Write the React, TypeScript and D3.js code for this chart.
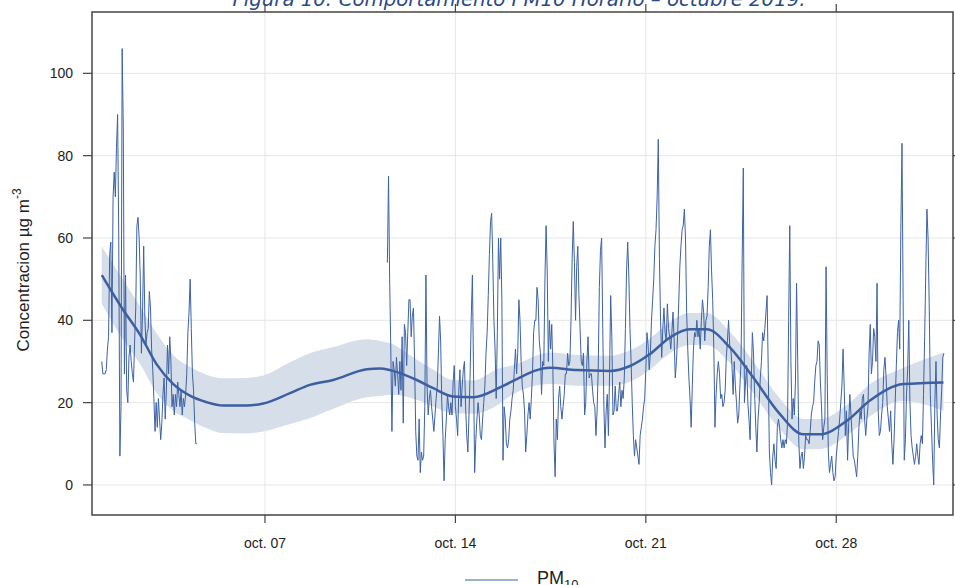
import React, { useEffect, useRef } from 'react';
import * as d3 from 'd3';

// hourly PM10, first block (Oct 1 00h - Oct 4 12h)
const block1Start = '2019-10-01T00:00:00Z';
const block1 = [
  30, 27, 27, 27, 28, 33, 36, 56, 59, 37,
  70, 76, 70, 82, 90, 60, 7, 19, 106, 87,
  27, 51, 23, 20, 31, 34, 30, 27, 25, 35,
  43, 63, 65, 60, 50, 32, 42, 58, 41, 34,
  37, 38, 47, 43, 33, 28, 21, 13, 20, 14,
  21, 16, 11, 15, 22, 26, 16, 23, 34, 27,
  36, 30, 19, 22, 17, 22, 19, 25, 22, 19,
  23, 17, 21, 19, 22, 27, 37, 42, 50, 38,
  27, 23, 15, 10, 10,
];

// hourly PM10, second block (Oct 11 12h - Oct 31 23h)
const block2Start = '2019-10-11T12:00:00Z';
const block2 = [
  54, 75, 50, 33, 13, 30, 28, 24, 31, 27,
  22, 30, 23, 36, 15, 39, 37, 29, 37, 45,
  45, 36, 41, 43, 30, 13, 7, 6, 16, 3,
  8, 6, 7, 19, 51, 24, 17, 21, 23, 19,
  16, 13, 17, 21, 24, 32, 41, 35, 20, 12,
  1, 11, 16, 22, 19, 17, 20, 17, 25, 29,
  19, 16, 12, 23, 28, 19, 24, 28, 30, 19,
  12, 8, 17, 27, 41, 51, 27, 3, 11, 16,
  20, 17, 12, 11, 16, 20, 24, 32, 37, 46,
  56, 64, 66, 54, 40, 33, 21, 37, 60, 50,
  60, 45, 6, 19, 16, 10, 9, 11, 16, 18,
  21, 23, 28, 33, 27, 32, 45, 40, 30, 24,
  22, 18, 8, 12, 17, 20, 16, 21, 27, 37,
  40, 40, 48, 45, 35, 32, 22, 30, 29, 50,
  63, 52, 30, 40, 33, 39, 28, 10, 2, 16,
  11, 21, 24, 19, 16, 19, 22, 27, 27, 32,
  29, 30, 40, 55, 64, 54, 40, 53, 58, 46,
  38, 30, 29, 32, 17, 20, 30, 36, 26, 27,
  27, 23, 20, 19, 12, 18, 28, 48, 57, 60,
  38, 19, 9, 18, 22, 12, 27, 46, 36, 17,
  18, 24,
  18, 18, 22, 25, 19, 23, 21, 26, 38, 52,
  59, 51, 38, 30, 20, 12, 7, 11, 9, 7,
  5, 12, 14, 16, 19, 21, 28, 37, 34, 28,
  32, 40, 45, 50, 58, 62, 70, 84, 55, 40,
  31, 38, 43, 37, 35, 44, 38, 36, 33, 37,
  42, 35, 26, 30, 36, 44, 53, 58, 62, 63,
  67, 60, 42, 33, 26, 21, 14, 24, 33, 37,
  36, 40, 36, 38, 33, 40, 45, 42, 35, 40,
  41, 48, 58, 62, 52, 45, 33, 14, 22, 27,
  30, 27, 21, 22, 19, 20, 23, 31, 35, 40, 34,
  33, 29, 22, 30, 24, 20, 15, 17, 24, 30,
  55, 77, 20, 25, 29, 20, 16, 11, 25, 37,
  32, 22, 14, 8, 16, 20, 26, 30, 37, 35,
  38, 42, 46, 28, 8, 3, 0, 7, 10, 6,
  4, 14, 16, 14, 11, 9, 11, 9, 11, 10,
  15, 40, 63, 30, 16, 21, 17, 25, 49, 30,
  10, 4, 7, 8, 4, 7, 12, 11, 11, 10,
  13, 17, 19, 20, 25, 29, 30, 35, 34, 25,
  19, 11, 14, 16, 53, 27, 8, 3, 5, 7,
  3, 1, 2, 7, 10, 13, 16, 20, 24, 33, 24,
  12, 18, 6, 15, 22, 17, 12, 7, 6, 4,
  2, 7, 14, 18, 16, 21, 22, 16, 12, 16,
  19, 32, 39, 27, 30, 38, 36, 30, 49, 18,
  12, 13, 17, 20, 28, 31, 26, 19, 16, 13,
  18, 10, 5, 11, 20, 29, 37, 40, 33, 62,
  83, 45, 6, 11, 22, 28, 40, 20, 12, 9,
  7, 5, 7, 10, 7, 5, 10, 12, 10, 22,
  36, 52, 67, 60, 44, 22, 14, 6, 0, 20,
  30, 17, 11, 9, 17, 23, 31, 32,
];

// smooth trend (days since Oct 1) with its confidence band
const fitDays = [0, 0.79, 1.4, 2.02, 2.63, 3.24, 3.86, 4.47, 5.33, 5.94, 6.92, 7.65, 8.51, 9.74, 10.23, 10.6, 11.58, 12.19, 12.92, 13.66, 14.64, 15.01, 16.48, 17.46, 18.68, 19.42, 20.15, 20.88, 21.62, 22.24, 23.09, 23.95, 24.93, 25.79, 26.4, 27.39, 28.24, 29.47, 30.94];
const fitValues = [51, 42.5, 36.6, 29.3, 24.5, 21.7, 20.1, 19.3, 19.3, 19.8, 22.3, 24.3, 25.5, 28.1, 28.3, 27.9, 25.5, 23.5, 21.5, 21.3, 23.7, 24.9, 28.5, 27.9, 27.7, 28.9, 31.8, 35.8, 37.8, 37.8, 33.4, 26.1, 17.2, 12.3, 12.3, 15.6, 20.5, 24.5, 24.9];
const fitLower = [44.1, 35.2, 29.5, 22.3, 18, 15.8, 13.8, 12.6, 12.5, 13, 14.8, 16.2, 18.5, 21.3, 21.6, 21.9, 20.7, 19, 17.4, 17.3, 19.8, 21.6, 24.5, 24.1, 24.1, 25.1, 28, 32, 34, 34, 29.6, 22.3, 13.5, 8.7, 8.7, 12, 16.7, 20.4, 18];
const fitUpper = [57.9, 49.8, 43.5, 36.8, 31.5, 28.7, 26.8, 25.9, 26, 26.6, 29.8, 32, 33.5, 35.4, 35, 34.4, 30.4, 28, 25.5, 25.4, 28.4, 28.9, 32.2, 31.6, 31.4, 32.7, 35.6, 39.6, 41.8, 41.8, 37.2, 30, 21, 16, 16, 19.4, 24.5, 28.5, 32.2];

const yTicks = [0, 20, 40, 60, 80, 100];
const xTickDates = ['2019-10-07', '2019-10-14', '2019-10-21', '2019-10-28'];
const xTickLabels = ['oct. 07', 'oct. 14', 'oct. 21', 'oct. 28'];

const HOUR = 3600 * 1000;
const DAY = 24 * HOUR;

const App: React.FC = () => {
  const chartRef = useRef<SVGSVGElement | null>(null);

  useEffect(() => {
    if (!chartRef.current) return;
    const svg = d3.select(chartRef.current);
    svg.selectAll('*').remove();

    const left = 92, right = 953, top = 12, bottom = 515;
    const origin = Date.parse('2019-10-01T00:00:00Z');
    const blue = '#3d62a6';
    const font = '"Liberation Sans", Arial, sans-serif';

    const x = d3.scaleUtc()
      .domain([new Date(origin - 8.6 * HOUR), new Date(origin + 31 * DAY + 7 * HOUR)])
      .range([left, right]);
    const y = d3.scaleLinear().domain([-7.3, 114.9]).range([bottom, top]);

    // title (cut by the top edge, as in the source figure)
    svg.append('text')
      .attr('x', 519).attr('y', 6)
      .attr('text-anchor', 'middle')
      .attr('font-family', '"DejaVu Sans", Verdana, sans-serif')
      .attr('font-style', 'italic')
      .attr('font-size', 19)
      .attr('textLength', 573)
      .attr('lengthAdjust', 'spacingAndGlyphs')
      .attr('fill', '#2a4a85')
      .text('Figura 10: Comportamiento PM10 Horario – octubre 2019.');

    // grid
    const grid = svg.append('g').attr('stroke', '#e6e6e6').attr('stroke-width', 1);
    yTicks.forEach(t => {
      grid.append('line').attr('x1', left).attr('x2', right).attr('y1', y(t)).attr('y2', y(t));
    });
    xTickDates.forEach(d => {
      const xv = x(new Date(d + 'T00:00:00Z'));
      grid.append('line').attr('x1', xv).attr('x2', xv).attr('y1', top).attr('y2', bottom);
    });

    // confidence band
    const fit = fitDays.map((d, i) => ({ t: new Date(origin + d * DAY), v: fitValues[i], lo: fitLower[i], hi: fitUpper[i] }));
    svg.append('path')
      .datum(fit)
      .attr('fill', '#d6deea')
      .attr('d', d3.area<any>()
        .x(d => x(d.t)).y0(d => y(d.lo)).y1(d => y(d.hi))
        .curve(d3.curveMonotoneX));

    // hourly series
    const toPoints = (start: string, vals: number[]) => {
      const s = Date.parse(start);
      return vals.map((v, i) => ({ t: new Date(s + i * HOUR), v }));
    };
    const line = d3.line<any>().x(d => x(d.t)).y(d => y(d.v));
    [toPoints(block1Start, block1), toPoints(block2Start, block2)].forEach(pts => {
      svg.append('path')
        .datum(pts)
        .attr('fill', 'none')
        .attr('stroke', blue)
        .attr('stroke-width', 1)
        .attr('d', line);
    });

    // smooth trend
    svg.append('path')
      .datum(fit)
      .attr('fill', 'none')
      .attr('stroke', '#3b5fa0')
      .attr('stroke-width', 2.5)
      .attr('d', d3.line<any>().x(d => x(d.t)).y(d => y(d.v)).curve(d3.curveMonotoneX));

    // frame + ticks on all four sides
    const axisColor = '#444';
    svg.append('rect')
      .attr('x', left).attr('y', top)
      .attr('width', right - left).attr('height', bottom - top)
      .attr('fill', 'none').attr('stroke', axisColor).attr('stroke-width', 1.5);

    const ticks = svg.append('g').attr('stroke', axisColor).attr('stroke-width', 1.2);
    yTicks.forEach(t => {
      ticks.append('line').attr('x1', left - 9).attr('x2', left).attr('y1', y(t)).attr('y2', y(t));
      ticks.append('line').attr('x1', right).attr('x2', right + 9).attr('y1', y(t)).attr('y2', y(t));
    });
    xTickDates.forEach(d => {
      const xv = x(new Date(d + 'T00:00:00Z'));
      ticks.append('line').attr('x1', xv).attr('x2', xv).attr('y1', bottom).attr('y2', bottom + 8);
      ticks.append('line').attr('x1', xv).attr('x2', xv).attr('y1', top - 8).attr('y2', top);
    });

    svg.append('g').selectAll('text')
      .data(yTicks)
      .enter().append('text')
      .attr('x', left - 19)
      .attr('y', d => y(d))
      .attr('dy', '0.35em')
      .attr('text-anchor', 'end')
      .attr('font-family', font)
      .attr('font-size', 14)
      .attr('fill', '#222')
      .text(d => d);

    svg.append('g').selectAll('text')
      .data(xTickDates)
      .enter().append('text')
      .attr('x', d => x(new Date(d + 'T00:00:00Z')))
      .attr('y', 548)
      .attr('text-anchor', 'middle')
      .attr('font-family', font)
      .attr('font-size', 14)
      .attr('fill', '#222')
      .text((d, i) => xTickLabels[i]);

    // y label
    const ylab = svg.append('text')
      .attr('transform', 'translate(29,270) rotate(-90)')
      .attr('text-anchor', 'middle')
      .attr('font-family', font)
      .attr('font-size', 17)
      .attr('fill', '#222');
    ylab.append('tspan').text('Concentracion µg m');
    ylab.append('tspan').attr('dy', -8).attr('font-size', 12).text('-3');

    // legend
    svg.append('line')
      .attr('x1', 465).attr('x2', 518).attr('y1', 580).attr('y2', 580)
      .attr('stroke', blue).attr('stroke-width', 1);
    const leg = svg.append('text')
      .attr('x', 537).attr('y', 584)
      .attr('font-family', font)
      .attr('font-size', 18)
      .attr('fill', '#222');
    leg.append('tspan').text('PM');
    leg.append('tspan').attr('dy', 5).attr('font-size', 13).text('10');
  }, []);

  return (
    <svg ref={chartRef} width={955} height={585}
      style={{ position: 'absolute', left: 0, top: 0, background: '#fff' }} />
  );
};

export default App;
